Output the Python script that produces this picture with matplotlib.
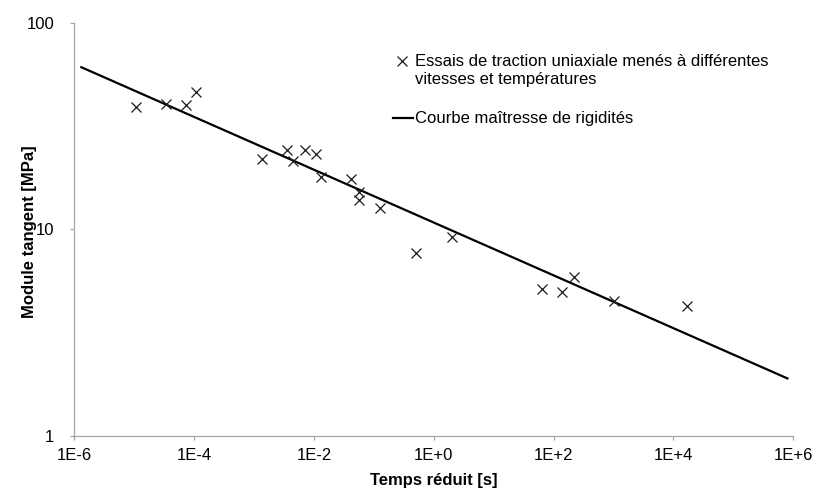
import matplotlib
matplotlib.use("Agg")
import matplotlib.pyplot as plt
from matplotlib.lines import Line2D
import numpy as np

plt.rcParams['font.family'] = ['Liberation Sans', 'DejaVu Sans']

# Data: test points (reduced time [s], tangent modulus [MPa])
temps = [1.08e-5, 3.36e-5, 7.24e-5, 1.08e-4, 1.38e-3, 3.6e-3, 4.43e-3, 7.1e-3,
         1.08e-2, 1.30e-2, 4.2e-2, 5.6e-2, 5.6e-2, 0.128, 0.50, 2.0,
         63.5, 140, 222, 1035, 1.67e4]
module = [39.0, 40.3, 40.1, 46.4, 21.8, 24.2, 21.5, 24.2,
          23.1, 18.0, 17.5, 15.1, 13.9, 12.7, 7.71, 9.22,
          5.13, 5.0, 5.86, 4.52, 4.26]

# Master curve end points
courbe_t = [1.26e-6, 8.3e5]
courbe_E = [61.2, 1.89]

xticks = [1e-6, 1e-4, 1e-2, 1e0, 1e2, 1e4, 1e6]
xticklabels = ['1E-6', '1E-4', '1E-2', '1E+0', '1E+2', '1E+4', '1E+6']
yticks = [1, 10, 100]
yticklabels = ['1', '10', '100']

label_pts = ["Essais de traction uniaxiale menés à différentes",
             "vitesses et températures"]
label_line = "Courbe maîtresse de rigidités"

FS = 12
W, H = 815, 491
fig = plt.figure(figsize=(W / 100, H / 100), dpi=100)
ax = fig.add_axes([74.3 / W, 1 - 436 / H, (793.3 - 74.3) / W, (436 - 22.7) / H])

ax.plot(courbe_t, courbe_E, color='black', lw=1.6, solid_capstyle='butt')
ax.plot(temps, module, linestyle='none', marker='x', color='#1a1a1a',
        markersize=7, markeredgewidth=0.9)

ax.set_xscale('log')
ax.set_yscale('log')
ax.set_xlim(1e-6, 1e6)
ax.set_ylim(1, 100)
ax.set_xticks(xticks)
ax.set_xticklabels(xticklabels)
ax.set_yticks(yticks)
ax.set_yticklabels(yticklabels)
ax.minorticks_off()

for s in ['top', 'right']:
    ax.spines[s].set_visible(False)
for s in ['left', 'bottom']:
    ax.spines[s].set_color('#a6a6a6')
    ax.spines[s].set_linewidth(0.9)
ax.tick_params(axis='both', direction='out', length=3, width=0.9,
               color='#a6a6a6', labelsize=FS, labelcolor='black')
ax.tick_params(axis='y', pad=11.5)
ax.tick_params(axis='x', pad=6)

ax.set_xlabel('Temps réduit [s]', fontsize=FS, fontweight='bold')
ax.xaxis.set_label_coords((433.8 - 74.3) / 719, -(485.5 - 436) / 413.3)
ax.xaxis.label.set_va('baseline')
ax.set_ylabel('Module tangent [MPa]', fontsize=FS, fontweight='bold')
ax.yaxis.set_label_coords((37 - 74.3) / 719, 0.5 - (232 - 229.4) / 413.3)

# Manual legend (figure pixel coordinates)
def fx(px):
    return px / W

def fy(py):
    return 1 - py / H

fig.add_artist(Line2D([fx(401.7)], [fy(61.0)], marker='x', color='#1a1a1a',
                      markersize=7, markeredgewidth=0.9, linestyle='none'))
for i, txt in enumerate(label_pts):
    fig.text(fx(415), fy(66 + 18 * i), txt, fontsize=FS, va='baseline', ha='left')
fig.add_artist(Line2D([fx(393), fx(413)], [fy(117.7), fy(117.7)],
                      color='black', lw=1.6))
fig.text(fx(415), fy(123), label_line, fontsize=FS, va='baseline', ha='left')

fig.savefig('out.png', dpi=100)
